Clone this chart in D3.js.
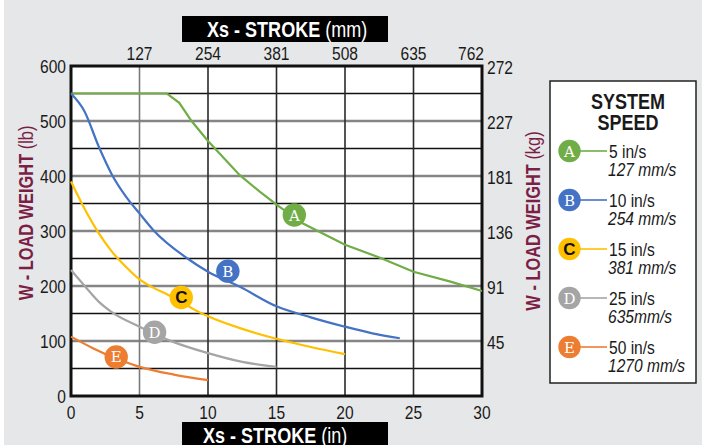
<!DOCTYPE html>
<html>
<head>
<meta charset="utf-8">
<title>Load weight vs stroke</title>
<script src="https://cdn.jsdelivr.net/npm/d3@7"></script>
<style>
  body { margin: 0; background: #e6e7e8; }
  svg text { font-family: "Liberation Sans", Arial, sans-serif; }
</style>
</head>
<body>
<svg id="chart" width="702" height="445"></svg>
<script>
// ---- data (stroke in inches, load in lb) ----
var inchTicks = [0, 5, 10, 15, 20, 25, 30]
var mmLabels = ["127", "254", "381", "508", "635", "762"]       // at 5..30 in
var lbTicks = [0, 100, 200, 300, 400, 500, 600]
var kgLabels = ["45", "91", "136", "181", "227", "272"]        // at 100..600 lb
var gridLb = [50, 100, 150, 200, 250, 300, 350, 400, 450, 500, 550]

var seriesKeys = ["A", "B", "C", "D", "E"]
var speedIn = ["5 in/s", "10 in/s", "15 in/s", "25 in/s", "50 in/s"]
var speedMm = ["127 mm/s", "254 mm/s", "381 mm/s", "635mm/s", "1270 mm/s"]
var seriesColors = ["#70ad47", "#4472c4", "#ffc000", "#a5a5a5", "#ed7d31"]

var curveA = [[0, 550], [7.0, 550], [7.9, 533], [8.8, 500], [9.95, 465], [12.3, 402], [13.8, 371],
  [15.1, 346], [16.9, 314], [20, 275], [22.6, 251], [25, 226], [27.7, 208], [30, 191]]
var curveB = [[0, 550], [1, 517], [2, 455], [3, 402], [4, 363], [5, 332], [6, 302], [8.5, 250],
  [10, 226], [12.3, 199], [15, 163], [17.5, 143], [20, 126], [22, 114], [24, 105]]
var curveC = [[0, 390], [1, 340], [2, 297], [3, 262], [4, 235], [5, 212], [6, 197], [7, 185],
  [8, 172], [9, 157], [10, 145], [12.5, 122], [15, 104], [17.5, 89], [20, 76]]
var curveD = [[0, 229], [1, 200], [2, 172], [3, 152], [5, 126], [7.5, 98], [10, 78], [12.5, 62], [15, 53]]
var curveE = [[0, 108], [1.6, 87], [3.3, 68], [5, 53], [7.5, 39], [10, 29]]
var curves = [curveA, curveB, curveC, curveD, curveE]

// where the letter badges sit on the curves
var badgeAt = [[16.3, 329], [11.45, 227], [8.05, 179], [6.1, 116], [3.3, 71]]

// ---- layout ----
var svg = d3.select("#chart")
var x = d3.scaleLinear().domain([0, 30]).range([71, 482])
var y = d3.scaleLinear().domain([0, 600]).range([396, 66])
var NARROW = 0.82   // squeeze Liberation Sans into a condensed face

// text helper: condensed text placed at (tx, ty), optional rotation
function txt(parent, tx, ty, size, anchor, rot) {
  return parent.append("text")
    .attr("transform", "translate(" + tx + "," + ty + ")" + (rot ? " rotate(" + rot + ")" : "") + " scale(" + NARROW + ",1)")
    .attr("text-anchor", anchor || "start")
    .attr("font-size", size)
    .attr("fill", "#1a1a1a")
}

svg.append("rect").attr("x", 0).attr("y", 0).attr("width", 4).attr("height", 445).attr("fill", "#fff")

// plot background
svg.append("rect")
  .attr("x", x(0)).attr("y", y(600))
  .attr("width", x(30) - x(0)).attr("height", y(0) - y(600))
  .attr("fill", "#fff")

// horizontal grid
svg.append("g").selectAll("line").data(gridLb).enter().append("line")
  .attr("x1", x(0)).attr("x2", x(30))
  .attr("y1", d => y(d)).attr("y2", d => y(d))
  .attr("stroke", d => d % 100 == 0 ? "#858585" : "#111")
  .attr("stroke-width", d => d % 100 == 0 ? 2.6 : 1.5)

// vertical grid
svg.append("g").selectAll("line").data(inchTicks.slice(1, -1)).enter().append("line")
  .attr("x1", d => x(d)).attr("x2", d => x(d))
  .attr("y1", y(600)).attr("y2", y(0))
  .attr("stroke", d => d == 5 ? "#7a7a7a" : "#2a2a2a")
  .attr("stroke-width", 1.6)

// frame
svg.append("rect")
  .attr("x", x(0)).attr("y", y(600))
  .attr("width", x(30) - x(0)).attr("height", y(0) - y(600))
  .attr("fill", "none").attr("stroke", "#111").attr("stroke-width", 3)

// curves
var line = d3.line().x(d => x(d[0])).y(d => y(d[1]))
curves.forEach(function (c, i) {
  svg.append("path")
    .attr("d", line.curve(i == 0 ? d3.curveLinear : d3.curveMonotoneX)(c))
    .attr("fill", "none")
    .attr("stroke", seriesColors[i])
    .attr("stroke-width", 2.2)
})

// badges
function badge(g, cx, cy, i, r) {
  g.append("circle").attr("cx", cx).attr("cy", cy).attr("r", r).attr("fill", seriesColors[i])
  var t = g.append("text").attr("x", cx).attr("y", cy + 5.5)
    .attr("text-anchor", "middle").text(seriesKeys[i])
  if (seriesKeys[i] == "C") {
    t.attr("fill", "#111").attr("font-weight", "bold").attr("font-size", 17)
  } else {
    t.attr("fill", "#fff").style("font-family", "DejaVu Serif, serif").attr("font-size", 15)
  }
}
badgeAt.forEach(function (p, i) { badge(svg, x(p[0]), y(p[1]), i, 11.7) })

// ---- axes ----
var tickFont = 19
inchTicks.forEach(function (d) {
  txt(svg, x(d), 419, tickFont, "middle").text(d)
})
mmLabels.forEach(function (d, i) {
  var xi = x(inchTicks[i + 1])
  txt(svg, i == 5 ? xi + 2 : xi, 60, tickFont, i == 5 ? "end" : "middle").text(d)
})
lbTicks.forEach(function (d) {
  txt(svg, 66, y(d) + 7, tickFont, "end").text(d)
})
kgLabels.forEach(function (d, i) {
  txt(svg, 487, y(lbTicks[i + 1]) + 8, tickFont, "start").text(d)
})

// ---- axis titles ----
function titleBox(yTop, h, tx, baseline, label, unit) {
  svg.append("rect").attr("x", 182).attr("y", yTop).attr("width", 206).attr("height", h).attr("fill", "#000")
  var t = txt(svg, tx, baseline, 22, "start").attr("fill", "#fff")
  t.append("tspan").attr("font-weight", "bold").text(label)
  t.append("tspan").text(" " + unit)
}
titleBox(16, 26, 207, 37, "Xs - STROKE", "(mm)")
titleBox(422, 30, 203, 443, "Xs - STROKE", "(in)")

function sideTitle(bx, cy, unit) {
  var t = txt(svg, bx, cy, 20, "middle", -90).attr("fill", "#7b1f47")
  t.append("tspan").attr("font-weight", "bold").text("W - LOAD WEIGHT")
  t.append("tspan").text(" " + unit)
}
sideTitle(33, 213, "(lb)")
sideTitle(540, 221, "(kg)")

// ---- legend ----
var lg = svg.append("g")
lg.append("rect").attr("x", 550).attr("y", 81).attr("width", 146).attr("height", 302)
  .attr("fill", "#fff").attr("stroke", "#222").attr("stroke-width", 1.5)
txt(lg, 628, 109, 22, "middle").attr("font-weight", "bold").text("SYSTEM")
txt(lg, 628, 130, 22, "middle").attr("font-weight", "bold").text("SPEED")

seriesKeys.forEach(function (k, i) {
  var cy = 151 + i * 49
  lg.append("line").attr("x1", 575).attr("x2", 607).attr("y1", cy).attr("y2", cy)
    .attr("stroke", seriesColors[i]).attr("stroke-width", 1.6)
  badge(lg, 569.5, cy, i, 11.2)
  txt(lg, 609, cy + 6.5, 19, "start").text(speedIn[i])
  txt(lg, 608, cy + 25, 19, "start").attr("font-style", "italic").text(speedMm[i])
})
</script>
</body>
</html>
